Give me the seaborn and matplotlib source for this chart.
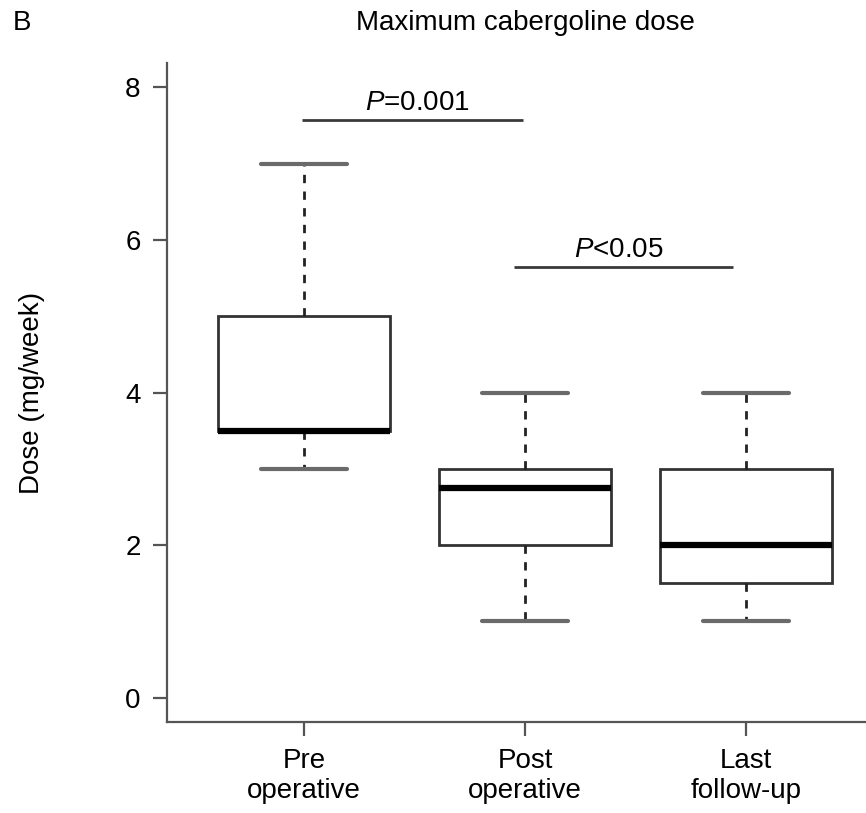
import matplotlib
matplotlib.use("Agg")
import matplotlib.pyplot as plt
import seaborn as sns
import pandas as pd

# ---- data ----
groups = ["Pre\noperative", "Post\noperative", "Last\nfollow-up"]
pre_values = [3.0, 3.5, 3.5, 5.0, 7.0]
post_values = [1.0, 2.0, 2.75, 3.0, 4.0]
last_values = [1.0, 1.5, 2.0, 3.0, 4.0]
y_ticks = [0, 2, 4, 6, 8]
sig_labels = ["$P$=0.001", "$P$<0.05"]
sig_heights = [7.57, 5.64]
sig_spans = [(-0.01, 0.99), (0.95, 1.94)]
sig_label_x = [0.515, 1.425]
title = "Maximum cabergoline dose"
panel = "B"
ylabel = "Dose (mg/week)"

df = pd.DataFrame({
    "group": [groups[0]] * len(pre_values) + [groups[1]] * len(post_values) + [groups[2]] * len(last_values),
    "dose": pre_values + post_values + last_values,
})

sns.set_style("ticks")
plt.rcParams["font.family"] = ["Liberation Sans", "DejaVu Sans"]
plt.rcParams["mathtext.fontset"] = "custom"
plt.rcParams["mathtext.rm"] = "Liberation Sans"
plt.rcParams["mathtext.it"] = "Liberation Sans:italic"
plt.rcParams["text.color"] = "black"
plt.rcParams["axes.labelcolor"] = "black"
plt.rcParams["xtick.labelcolor"] = "black"
plt.rcParams["ytick.labelcolor"] = "black"

FS = 20
fig = plt.figure(figsize=(8.66, 8.13), dpi=100)
ax = fig.add_axes([167 / 866, 1 - 722 / 813, (883 - 167) / 866, (722 - 63) / 813])

edge = "#333333"
sns.boxplot(
    data=df, x="group", y="dose", order=groups, ax=ax,
    whis=(0, 100), width=0.78, color="white", linecolor=edge, linewidth=2,
    boxprops=dict(facecolor="white", edgecolor=edge, linewidth=2),
    whiskerprops=dict(color="#222222", linestyle=(0, (3, 3)), linewidth=2),
    capprops=dict(color="#6a6a6a", linewidth=3),
    medianprops=dict(color="black", linewidth=4.5),
    showfliers=False,
)

ax.set_xlim(-0.62, 2.62)
ax.set_ylim(-0.32, 8.32)
ax.set_yticks(y_ticks)
ax.set_yticklabels([str(t) for t in y_ticks])
ax.set_xlabel("")
ax.set_ylabel(ylabel, fontsize=FS)
ax.yaxis.set_label_coords(-0.170, 0.5)

for s in ["top", "right"]:
    ax.spines[s].set_visible(False)
for s in ["left", "bottom"]:
    ax.spines[s].set_color("#555555")
    ax.spines[s].set_linewidth(1.6)
ax.tick_params(axis="both", direction="out", length=10, width=1.6, color="#555555",
               labelsize=FS, pad=9)

for lab, h, (x0, x1), tx in zip(sig_labels, sig_heights, sig_spans, sig_label_x):
    ax.plot([x0, x1], [h, h], color="#3a3a3a", linewidth=2, solid_capstyle="butt")
    ax.text(tx, h + 0.06, lab, ha="center", va="bottom", fontsize=FS)

fig.text(525 / 866, 1 - 23 / 813, title, ha="center", va="center", fontsize=FS)
fig.text(22 / 866, 1 - 23 / 813, panel, ha="center", va="center", fontsize=FS)

fig.savefig("out.png", dpi=100)
